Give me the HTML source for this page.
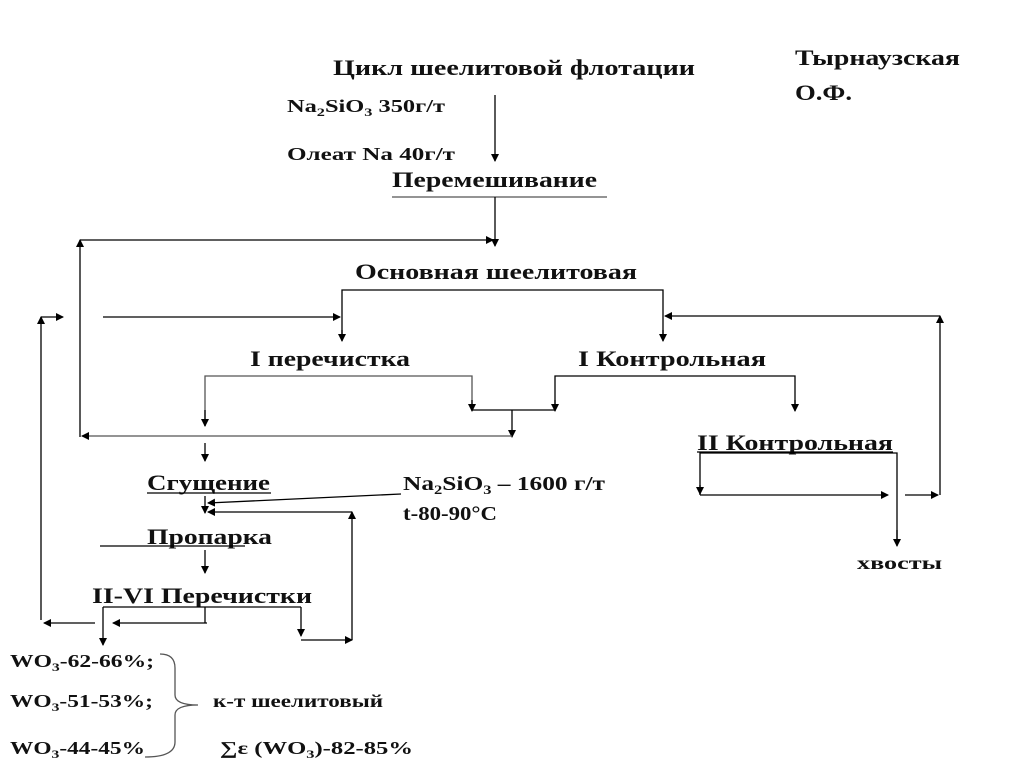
<!DOCTYPE html>
<html><head><meta charset="utf-8"><style>
html,body{margin:0;padding:0;background:#fff;}
svg{display:block;}
text{font-family:"Liberation Serif",serif;font-weight:bold;fill:#111;}
</style></head><body>
<svg width="1024" height="768" viewBox="0 0 1024 768" xmlns="http://www.w3.org/2000/svg">
<defs>
<marker id="a" markerWidth="8" markerHeight="8" refX="7" refY="4" orient="auto" markerUnits="userSpaceOnUse">
<path d="M0,0 L8,4 L0,8 z" fill="#000"/></marker>
</defs>
<g font-size="22">
<text x="333" y="75" textLength="362" lengthAdjust="spacingAndGlyphs">Цикл шеелитовой флотации</text>
<text x="795" y="65" textLength="165" lengthAdjust="spacingAndGlyphs">Тырнаузская</text>
<text x="795" y="100" textLength="57" lengthAdjust="spacingAndGlyphs">О.Ф.</text>
<text x="392" y="187" textLength="205" lengthAdjust="spacingAndGlyphs">Перемешивание</text>
<text x="355" y="279" textLength="282" lengthAdjust="spacingAndGlyphs">Основная шеелитовая</text>
<text x="250" y="366" textLength="160" lengthAdjust="spacingAndGlyphs">I перечистка</text>
<text x="578" y="366" textLength="188" lengthAdjust="spacingAndGlyphs">I Контрольная</text>
<text x="697" y="450" textLength="196" lengthAdjust="spacingAndGlyphs">II Контрольная</text>
<text x="147" y="490" textLength="123" lengthAdjust="spacingAndGlyphs">Сгущение</text>
<text x="147" y="544" textLength="125" lengthAdjust="spacingAndGlyphs">Пропарка</text>
<text x="92" y="603" textLength="220" lengthAdjust="spacingAndGlyphs">II-VI Перечистки</text>
</g>
<g font-size="18">
<text x="287" y="112" textLength="158" lengthAdjust="spacingAndGlyphs">Na<tspan font-size="12" dy="4">2</tspan><tspan dy="-4">SiO</tspan><tspan font-size="12" dy="4">3</tspan><tspan dy="-4"> 350г/т</tspan></text>
<text x="287" y="160" textLength="168" lengthAdjust="spacingAndGlyphs">Олеат Na 40г/т</text>
<text x="403" y="490" textLength="202" lengthAdjust="spacingAndGlyphs" font-size="20">Na<tspan font-size="13" dy="4">2</tspan><tspan dy="-4">SiO</tspan><tspan font-size="13" dy="4">3</tspan><tspan dy="-4"> – 1600 г/т</tspan></text>
<text x="403" y="520" textLength="94" lengthAdjust="spacingAndGlyphs" font-size="20">t-80-90°C</text>
<text x="857" y="569" textLength="85" lengthAdjust="spacingAndGlyphs">хвосты</text>
<text x="10" y="667" textLength="144" lengthAdjust="spacingAndGlyphs">WO<tspan font-size="12" dy="4">3</tspan><tspan dy="-4">-62-66%;</tspan></text>
<text x="10" y="707" textLength="143" lengthAdjust="spacingAndGlyphs">WO<tspan font-size="12" dy="4">3</tspan><tspan dy="-4">-51-53%;</tspan></text>
<text x="10" y="754" textLength="135" lengthAdjust="spacingAndGlyphs">WO<tspan font-size="12" dy="4">3</tspan><tspan dy="-4">-44-45%</tspan></text>
<text x="213" y="707" textLength="170" lengthAdjust="spacingAndGlyphs">к-т шеелитовый</text>
<text x="220" y="754" textLength="193" lengthAdjust="spacingAndGlyphs">∑ε (WO<tspan font-size="12" dy="4">3</tspan><tspan dy="-4">)-82-85%</tspan></text>
</g>
<g stroke="#000" stroke-width="1.3" fill="none">
<line x1="495" y1="95" x2="495" y2="161" marker-end="url(#a)"/>
<line x1="392" y1="197" x2="607" y2="197" stroke="#555"/>
<line x1="495" y1="197" x2="495" y2="246" marker-end="url(#a)"/>
<line x1="80" y1="240" x2="493" y2="240" marker-end="url(#a)"/>
<line x1="80" y1="437" x2="80" y2="240" marker-end="url(#a)"/>
<polyline points="342,340 342,290 663,290 663,340"/>
<line x1="342" y1="330" x2="342" y2="341" marker-end="url(#a)"/>
<line x1="663" y1="330" x2="663" y2="341" marker-end="url(#a)"/>
<line x1="103" y1="317" x2="340" y2="317" marker-end="url(#a)"/>
<line x1="41" y1="620" x2="41" y2="317" marker-end="url(#a)"/>
<line x1="41" y1="317" x2="63" y2="317" marker-end="url(#a)"/>
<line x1="940" y1="316" x2="665" y2="316" marker-end="url(#a)"/>
<line x1="940" y1="495" x2="940" y2="316" marker-end="url(#a)"/>
<polyline points="205,426 205,376 472,376 472,410" stroke="#555"/>
<line x1="205" y1="410" x2="205" y2="426" marker-end="url(#a)"/>
<line x1="472" y1="400" x2="472" y2="411" marker-end="url(#a)"/>
<line x1="472" y1="410" x2="555" y2="410"/>
<polyline points="555,410 555,376 795,376 795,410"/>
<line x1="555" y1="400" x2="555" y2="411" marker-end="url(#a)"/>
<line x1="795" y1="400" x2="795" y2="411" marker-end="url(#a)"/>
<line x1="512" y1="410" x2="512" y2="437" marker-end="url(#a)"/>
<line x1="512" y1="436" x2="82" y2="436" marker-end="url(#a)" stroke="#555"/>
<line x1="205" y1="443" x2="205" y2="461" marker-end="url(#a)"/>
<line x1="697" y1="452" x2="893" y2="452"/>
<polyline points="700,495 700,453 897,453 897,545"/>
<line x1="700" y1="485" x2="700" y2="494" marker-end="url(#a)"/>
<line x1="897" y1="530" x2="897" y2="546" marker-end="url(#a)"/>
<line x1="700" y1="495" x2="888" y2="495" marker-end="url(#a)"/>
<line x1="905" y1="495" x2="938" y2="495" marker-end="url(#a)"/>
<line x1="147" y1="493" x2="271" y2="493"/>
<line x1="205" y1="496" x2="205" y2="513" marker-end="url(#a)"/>
<line x1="401" y1="494" x2="208" y2="503" marker-end="url(#a)"/>
<line x1="352" y1="512" x2="208" y2="512" marker-end="url(#a)"/>
<line x1="352" y1="640" x2="352" y2="512" marker-end="url(#a)"/>
<line x1="100" y1="546" x2="245" y2="546"/>
<line x1="205" y1="550" x2="205" y2="573" marker-end="url(#a)"/>
<line x1="103" y1="607" x2="301" y2="607"/>
<line x1="103" y1="607" x2="103" y2="645" marker-end="url(#a)"/>
<line x1="205" y1="607" x2="205" y2="623"/>
<line x1="207" y1="623" x2="113" y2="623" marker-end="url(#a)"/>
<line x1="95" y1="623" x2="44" y2="623" marker-end="url(#a)"/>
<line x1="301" y1="607" x2="301" y2="636" marker-end="url(#a)"/>
<line x1="301" y1="640" x2="352" y2="640" marker-end="url(#a)"/>
<path d="M160,654 Q175,654 175,668 L175,695 Q175,705 198,705 Q175,705 175,715 L175,742 Q175,757 145,757" stroke="#555"/>
</g>
</svg>
</body></html>
